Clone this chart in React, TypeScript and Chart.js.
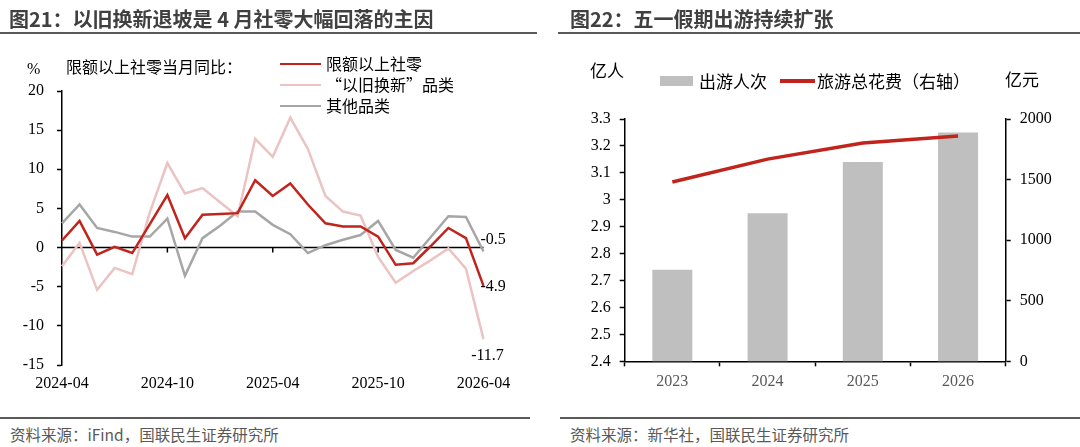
import React, { useEffect, useRef } from 'react';
import { Chart, registerables } from 'chart.js';

Chart.register(...registerables);

// ---- Figure 21: retail sales of enterprises above designated size, monthly YoY (%) ----
const months = [
  '2024-04', '2024-05', '2024-06', '2024-07', '2024-08', '2024-09', '2024-10',
  '2024-11', '2024-12', '2025-01', '2025-02', '2025-03', '2025-04', '2025-05',
  '2025-06', '2025-07', '2025-08', '2025-09', '2025-10', '2025-11', '2025-12',
  '2026-01', '2026-02', '2026-03', '2026-04',
];
const aboveQuota = [
  0.9, 3.4, -0.9, 0.1, -0.7, 3.0, 6.7, 1.2, 4.2, 4.3, 4.4, 8.6, 6.6, 8.2,
  5.5, 3.1, 2.7, 2.7, 1.4, -2.2, -2.0, 0.2, 2.5, 1.2, -4.9,
];
const tradeInGoods = [
  -2.4, 0.6, -5.4, -2.6, -3.4, 4.5, 10.8, 6.9, 7.6, 5.8, 4.0, 13.9, 11.6, 16.6,
  12.6, 6.6, 4.6, 4.1, -1.2, -4.5, -3.0, -1.6, -0.1, -2.7, -11.7,
];
const otherGoods = [
  3.1, 5.5, 2.5, 2.0, 1.4, 1.4, 3.7, -3.6, 1.2, 2.8, 4.6, 4.6, 2.9, 1.7,
  -0.7, 0.3, 1.0, 1.6, 3.4, -0.3, -1.3, 1.35, 4.0, 3.9, -0.5,
];
const seriesNames = ['限额以上社零', '“以旧换新”品类', '其他品类'];

// ---- Figure 22: May Day holiday trips (100 million) and spending (100 million yuan) ----
const years = ['2023', '2024', '2025', '2026'];
const trips = [2.74, 2.95, 3.14, 3.25];
const spending = [1480.6, 1668.9, 1802.7, 1860];

const RED = '#C0241C';
const PINK = '#EBC3C3';
const GRAY = '#A6A6A6';
const BAR = '#BFBFBF';
const SERIF = '"Liberation Serif", "Times New Roman", serif';
const SANS = '"Noto Sans CJK SC", "Noto Sans", sans-serif';

const tickFont = { family: SERIF, size: 16 };

// zero line with month tick marks, plus end-of-series value labels
const zeroAxisPlugin = {
  id: 'zeroAxis',
  beforeDatasetsDraw(chart: any) {
    const { ctx, scales } = chart;
    const x = scales.x;
    const y = scales.y;
    const y0 = y.getPixelForValue(0);
    ctx.save();
    ctx.strokeStyle = '#000';
    ctx.lineWidth = 1.5;
    ctx.beginPath();
    ctx.moveTo(x.left, y0);
    ctx.lineTo(x.right, y0);
    [6, 12, 18].forEach((i) => {
      const px = x.getPixelForValue(i);
      ctx.moveTo(px, y0);
      ctx.lineTo(px, y0 + 5);
    });
    ctx.stroke();
    ctx.restore();
  },
  afterDraw(chart: any) {
    const { ctx, scales } = chart;
    const x = scales.x;
    const y = scales.y;
    const last = months.length - 1;
    const px = x.getPixelForValue(last);
    ctx.save();
    ctx.fillStyle = '#000';
    ctx.font = `16px ${SERIF}`;
    ctx.textBaseline = 'middle';
    ctx.textAlign = 'left';
    const g = otherGoods[last];
    ctx.fillText(g.toFixed(1), px - 3, y.getPixelForValue(g) - 12);
    const r = aboveQuota[last];
    ctx.fillText(r.toFixed(1), px - 3, y.getPixelForValue(r) + 1);
    const p = tradeInGoods[last];
    ctx.textAlign = 'center';
    ctx.fillText(p.toFixed(1), px + 4, y.getPixelForValue(p) + 17);
    ctx.restore();
  },
};

function RetailChart() {
  const ref = useRef<HTMLCanvasElement>(null);
  useEffect(() => {
    if (!ref.current) return;
    const line = (label: string, data: number[], color: string) => ({
      label,
      data,
      borderColor: color,
      backgroundColor: color,
      borderWidth: 2.5,
      pointRadius: 0,
      tension: 0,
      fill: false,
    });
    const chart = new Chart(ref.current, {
      type: 'line',
      data: {
        labels: months,
        datasets: [
          line(seriesNames[0], aboveQuota, RED),
          line(seriesNames[1], tradeInGoods, PINK),
          line(seriesNames[2], otherGoods, GRAY),
        ],
      },
      options: {
        animation: false,
        responsive: false,
        maintainAspectRatio: false,
        layout: { padding: { top: 91, right: 56.5, left: 0, bottom: 0 } },
        plugins: { legend: { display: false }, tooltip: { enabled: false } },
        scales: {
          x: {
            type: 'category',
            offset: false,
            grid: { display: false, drawTicks: false },
            border: { display: false },
            ticks: {
              autoSkip: false,
              maxRotation: 0,
              padding: 9,
              color: '#000',
              font: tickFont,
              callback: (_v: any, i: number) => (i % 6 === 0 ? months[i] : ''),
            },
            afterFit: (s: any) => {
              s.height = 35;
            },
          },
          y: {
            min: -15,
            max: 20,
            ticks: { stepSize: 5, color: '#000', font: tickFont, padding: 13 },
            grid: { drawOnChartArea: false, tickLength: 5, tickColor: '#000', tickWidth: 1.5 },
            border: { color: '#000', width: 1.5 },
            afterFit: (s: any) => {
              s.width = 62;
            },
          },
        },
      } as any,
      plugins: [zeroAxisPlugin],
    });
    return () => chart.destroy();
  }, []);
  return (
    <canvas
      ref={ref}
      width={540}
      height={400}
      style={{ position: 'absolute', left: 0, top: 0, width: 540, height: 400 }}
    />
  );
}

function HolidayChart() {
  const ref = useRef<HTMLCanvasElement>(null);
  useEffect(() => {
    if (!ref.current) return;
    const axisGrid = { drawOnChartArea: false, tickLength: 5, tickColor: '#000', tickWidth: 1.5 };
    const chart = new Chart(ref.current, {
      type: 'bar',
      data: {
        labels: years,
        datasets: [
          {
            type: 'line',
            label: '旅游总花费（右轴）',
            data: spending,
            yAxisID: 'y1',
            borderColor: RED,
            backgroundColor: RED,
            borderWidth: 3.5,
            pointRadius: 0,
            tension: 0,
            order: 0,
          },
          {
            type: 'bar',
            label: '出游人次',
            data: trips,
            yAxisID: 'y',
            backgroundColor: BAR,
            barPercentage: 0.42,
            categoryPercentage: 1,
            order: 1,
          },
        ],
      },
      options: {
        animation: false,
        responsive: false,
        maintainAspectRatio: false,
        layout: { padding: { top: 119, right: 0, left: 0, bottom: 0 } },
        plugins: { legend: { display: false }, tooltip: { enabled: false } },
        scales: {
          x: {
            grid: { ...axisGrid, offset: true },
            border: { color: '#000', width: 1.5 },
            ticks: { color: '#595959', font: tickFont, padding: 6 },
            afterFit: (s: any) => {
              s.height = 38.7;
            },
          },
          y: {
            position: 'left',
            min: 2.4,
            max: 3.3,
            ticks: {
              stepSize: 0.1,
              color: '#000',
              font: tickFont,
              padding: 9,
              callback: (v: any) => String(Number(Number(v).toFixed(1))),
            },
            grid: axisGrid,
            border: { color: '#000', width: 1.5 },
            afterFit: (s: any) => {
              s.width = 84.7;
            },
          },
          y1: {
            position: 'right',
            min: 0,
            max: 2000,
            ticks: {
              stepSize: 500,
              color: '#000',
              font: tickFont,
              padding: 9,
              callback: (v: any) => String(Math.round(Number(v))),
            },
            grid: axisGrid,
            border: { color: '#000', width: 1.5 },
            afterFit: (s: any) => {
              s.width = 74.3;
            },
          },
        },
      } as any,
    });
    return () => chart.destroy();
  }, []);
  return (
    <canvas
      ref={ref}
      width={540}
      height={400}
      style={{ position: 'absolute', left: 540, top: 0, width: 540, height: 400 }}
    />
  );
}

type TextProps = {
  x: number;
  y: number;
  size?: number;
  family?: string;
  color?: string;
  weight?: number;
  children: React.ReactNode;
};

function Text({ x, y, size = 16, family = SANS, color = '#000', weight = 400, children }: TextProps) {
  return (
    <div
      style={{
        position: 'absolute',
        left: x,
        top: y,
        transform: 'translateY(-50%)',
        fontFamily: family,
        fontSize: size,
        fontWeight: weight,
        lineHeight: 1.2,
        color,
        whiteSpace: 'nowrap',
      }}
    >
      {children}
    </div>
  );
}

function Rule({ x1, x2, y, color = '#595959', h = 2 }: { x1: number; x2: number; y: number; color?: string; h?: number }) {
  return (
    <div
      style={{
        position: 'absolute',
        left: x1,
        top: y - h / 2,
        width: x2 - x1,
        height: h,
        background: color,
      }}
    />
  );
}

function LegendLine({ x, y, w, color, h }: { x: number; y: number; w: number; color: string; h: number }) {
  return <Rule x1={x} x2={x + w} y={y} color={color} h={h} />;
}

export default function App() {
  return (
    <div
      style={{
        position: 'absolute',
        left: 0,
        top: 0,
        width: 1080,
        height: 447,
        overflow: 'hidden',
        background: '#fff',
      }}
    >
      <RetailChart />
      <HolidayChart />

      {/* titles */}
      <Text x={9} y={18.5} size={20} weight={700} color="#404040">
        图21：以旧换新退坡是 4 月社零大幅回落的主因
      </Text>
      <Rule x1={0} x2={537} y={32.5} />
      <Text x={570} y={18.5} size={20} weight={700} color="#404040">
        图22：五一假期出游持续扩张
      </Text>
      <Rule x1={558} x2={1080} y={32.5} />

      {/* figure 21 labels and legend */}
      <Text x={27} y={69} size={16} family={SERIF}>%</Text>
      <Text x={66} y={67} size={16}>限额以上社零当月同比：</Text>
      <LegendLine x={280} y={64} w={41} color={RED} h={2.5} />
      <Text x={326} y={64} size={16}>{seriesNames[0]}</Text>
      <LegendLine x={280} y={85} w={41} color={PINK} h={2.5} />
      <Text x={326} y={85} size={16}>{seriesNames[1]}</Text>
      <LegendLine x={280} y={106} w={41} color={GRAY} h={2.5} />
      <Text x={326} y={106} size={16}>{seriesNames[2]}</Text>

      {/* figure 22 units and legend */}
      <Text x={590} y={70} size={17}>亿人</Text>
      <div style={{ position: 'absolute', left: 660, top: 76, width: 33, height: 10, background: BAR }} />
      <Text x={699} y={81} size={17}>出游人次</Text>
      <LegendLine x={780} y={81} w={35} color={RED} h={4} />
      <Text x={817} y={81} size={17}>旅游总花费（右轴）</Text>
      <Text x={1005} y={79} size={17}>亿元</Text>

      {/* sources */}
      <Rule x1={0} x2={530} y={418} />
      <Rule x1={560} x2={1080} y={418} />
      <Text x={10} y={434} size={15.5} color="#595959">资料来源：iFind，国联民生证券研究所</Text>
      <Text x={570} y={434} size={15.5} color="#595959">资料来源：新华社，国联民生证券研究所</Text>
    </div>
  );
}
